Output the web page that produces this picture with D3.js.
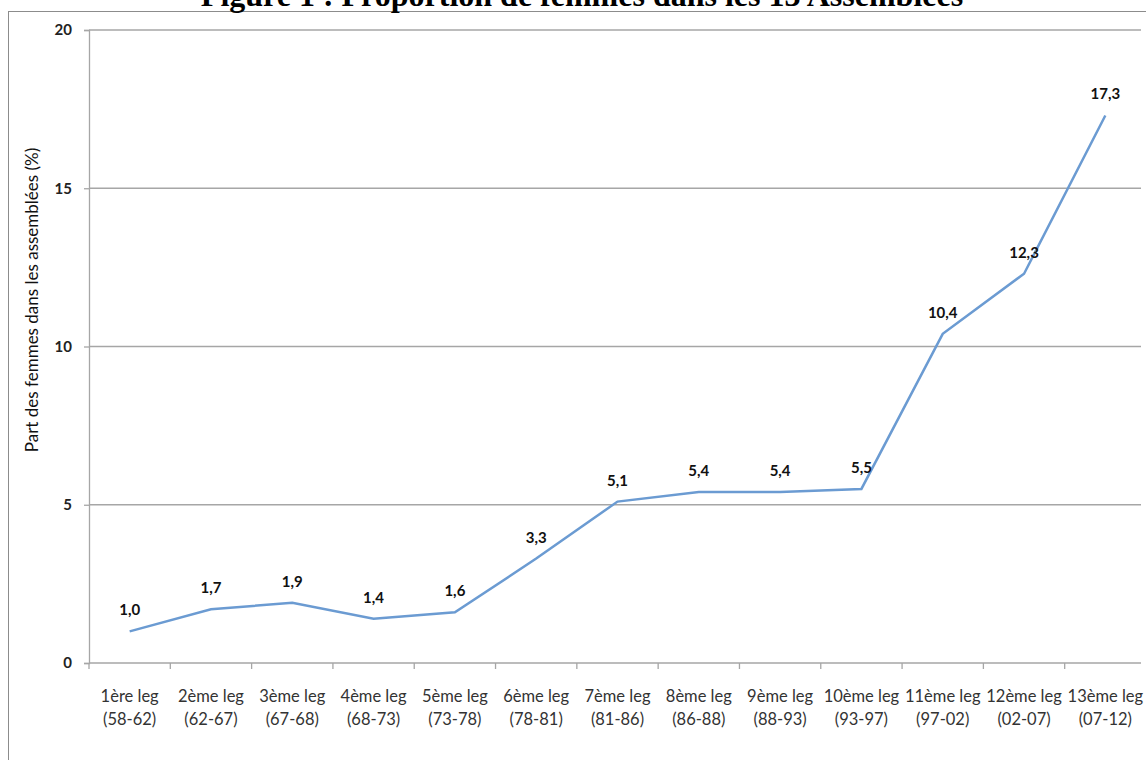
<!DOCTYPE html>
<html>
<head>
<meta charset="utf-8">
<script src="https://cdn.jsdelivr.net/npm/d3@7"></script>
<style>
  body { margin: 0; background: #fff; }
  svg { display: block; }
</style>
</head>
<body>
<div id="chart"></div>
<script>
// legislatures and share of women (%)
const legs = ["1ère leg", "2ème leg", "3ème leg", "4ème leg", "5ème leg", "6ème leg", "7ème leg",
  "8ème leg", "9ème leg", "10ème leg", "11ème leg", "12ème leg", "13ème leg"];
const periods = ["(58-62)", "(62-67)", "(67-68)", "(68-73)", "(73-78)", "(78-81)", "(81-86)",
  "(86-88)", "(88-93)", "(93-97)", "(97-02)", "(02-07)", "(07-12)"];
const share = [1.0, 1.7, 1.9, 1.4, 1.6, 3.3, 5.1, 5.4, 5.4, 5.5, 10.4, 12.3, 17.3];
const yTicks = [0, 5, 10, 15, 20];

const W = 1146, H = 760;
const plotLeft = 89, plotRight = 1146, plotTop = 30, plotBottom = 663;
const sans = "Lato, 'Open Sans', sans-serif";

const svg = d3.select("#chart").append("svg")
  .attr("width", W).attr("height", H);

// frame of the chart object
svg.append("rect")
  .attr("x", 8.5).attr("y", 11.5)
  .attr("width", W + 10).attr("height", H + 10)
  .attr("fill", "none").attr("stroke", "#8c8c8c").attr("stroke-width", 1);

// title (clipped at top, as in the original)
svg.append("text")
  .attr("x", 582).attr("y", 6)
  .attr("text-anchor", "middle")
  .style("font-family", "'Liberation Serif', 'Times New Roman', serif")
  .style("font-weight", "bold")
  .style("font-size", "32px")
  .text("Figure 1 : Proportion de femmes dans les 13 Assemblées");

const x = d3.scaleBand().domain(legs).range([plotLeft, plotRight]);
const y = d3.scaleLinear().domain([0, 20]).range([plotBottom, plotTop]);

// gridlines
svg.append("g").selectAll("line")
  .data(yTicks.filter(d => d > 0))
  .enter().append("line")
  .attr("x1", plotLeft).attr("x2", 1141)
  .attr("y1", d => y(d)).attr("y2", d => y(d))
  .attr("stroke", "#a6a6a6").attr("stroke-width", 1.3);

// y axis
const yAxis = svg.append("g")
  .attr("transform", `translate(${plotLeft},0)`)
  .call(d3.axisLeft(y).tickValues(yTicks).tickSize(5).tickPadding(12));
yAxis.select(".domain").attr("stroke", "#a6a6a6").attr("stroke-width", 1.3);
yAxis.selectAll(".tick line").attr("stroke", "#a6a6a6").attr("stroke-width", 1.3);
yAxis.selectAll("text")
  .style("font-family", sans)
  .style("font-weight", "bold")
  .style("font-size", "15px")
  .attr("fill", "#222");

// x axis with ticks at band boundaries
const xAxis = svg.append("g").attr("transform", `translate(0,${plotBottom})`);
xAxis.append("line")
  .attr("x1", plotLeft).attr("x2", 1141)
  .attr("y1", 0).attr("y2", 0)
  .attr("stroke", "#a6a6a6").attr("stroke-width", 1.3);
xAxis.selectAll(".tk")
  .data(legs)
  .enter().append("line")
  .attr("class", "tk")
  .attr("x1", d => x(d)).attr("x2", d => x(d))
  .attr("y1", 0).attr("y2", 6)
  .attr("stroke", "#a6a6a6").attr("stroke-width", 1.3);

const lbl = xAxis.selectAll(".lbl")
  .data(legs)
  .enter().append("text")
  .attr("class", "lbl")
  .attr("text-anchor", "middle")
  .style("font-family", sans)
  .style("font-size", "16.5px")
  .attr("fill", "#333");
lbl.append("tspan")
  .attr("x", d => x(d) + x.bandwidth() / 2)
  .attr("y", 39)
  .text(d => d);
lbl.append("tspan")
  .attr("x", d => x(d) + x.bandwidth() / 2)
  .attr("y", 62)
  .text((d, i) => periods[i]);

// y axis title
svg.append("text")
  .attr("transform", "translate(38,300) rotate(-90)")
  .attr("text-anchor", "middle")
  .style("font-family", sans)
  .style("font-size", "17px")
  .attr("fill", "#111")
  .text("Part  des femmes dans les assemblées (%)");

// line
const line = d3.line()
  .x((d, i) => x(legs[i]) + x.bandwidth() / 2)
  .y(d => y(d));

svg.append("path")
  .datum(share)
  .attr("d", line)
  .attr("fill", "none")
  .attr("stroke", "#6b9bd2")
  .attr("stroke-width", 2.5);

// data labels
svg.append("g").selectAll("text")
  .data(share)
  .enter().append("text")
  .attr("x", (d, i) => x(legs[i]) + x.bandwidth() / 2)
  .attr("y", d => y(d) - 16)
  .attr("text-anchor", "middle")
  .style("font-family", sans)
  .style("font-weight", "bold")
  .style("font-size", "15px")
  .attr("fill", "#111")
  .text(d => d.toFixed(1).replace(".", ","));
</script>
</body>
</html>
